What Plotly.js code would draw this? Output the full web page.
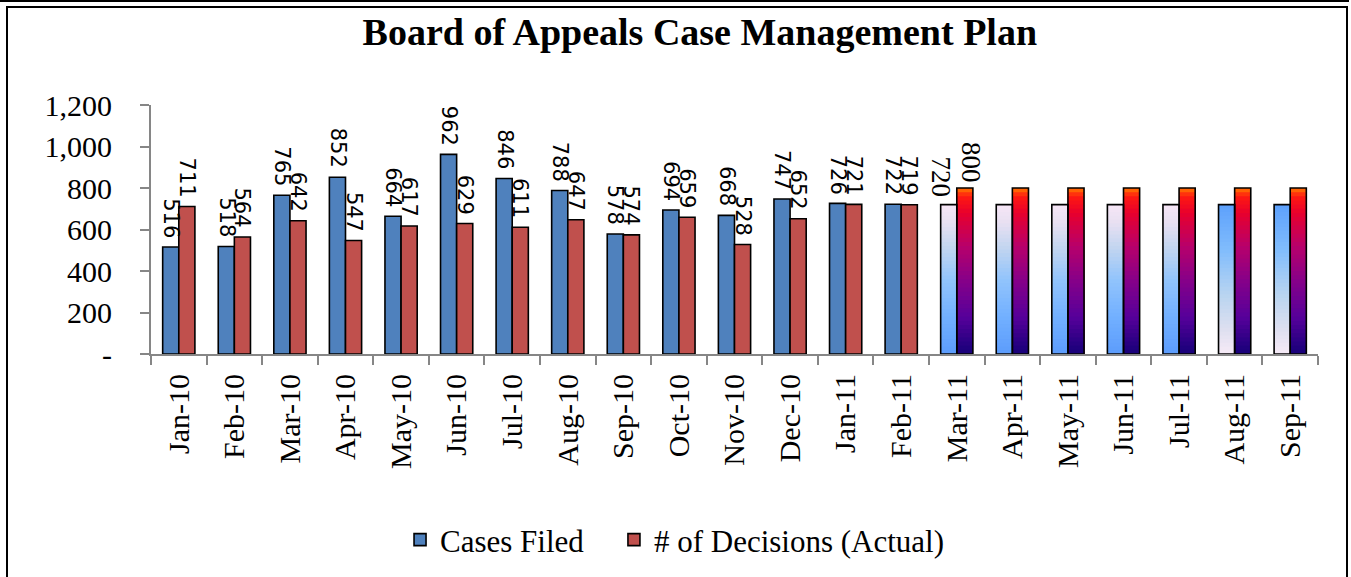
<!DOCTYPE html>
<html>
<head>
<meta charset="utf-8">
<script src="https://cdn.plot.ly/plotly-3.0.1.min.js"></script>
<style>
  html, body { margin: 0; padding: 0; background: #fff; }
  #wrap { position: relative; width: 1351px; height: 577px; overflow: hidden; }
  #chart { position: absolute; left: 0; top: 0; width: 1351px; height: 577px; }
  .topline { position: absolute; left: 0; top: 0; width: 1349px; height: 2px; background: #000; pointer-events: none; }
  .frame { position: absolute; left: 6px; top: 6px; width: 1338px; height: 600px; border: 2px solid #000; border-bottom: none; pointer-events: none; }
</style>
</head>
<body>
<div id="wrap">
  <div id="chart"></div>
  <div class="topline"></div>
  <div class="frame"></div>
</div>
<script>
// ---- data ----
var months = ['Jan-10','Feb-10','Mar-10','Apr-10','May-10','Jun-10','Jul-10','Aug-10','Sep-10','Oct-10','Nov-10','Dec-10','Jan-11','Feb-11',
              'Mar-11','Apr-11','May-11','Jun-11','Jul-11','Aug-11','Sep-11'];
var casesFiledActual = [516,518,765,852,664,962,846,788,578,694,668,747,726,722];
var decisionsActual  = [711,564,642,547,617,629,611,647,574,659,528,652,721,719];
var planMonths       = ['Mar-11','Apr-11','May-11','Jun-11','Jul-11','Aug-11','Sep-11'];
var casesFiledPlan   = [720,720,720,720,720,720,720];
var decisionsPlan    = [800,800,800,800,800,800,800];
var labeledPlanMonth = 'Mar-11';
var yTickVals  = [0,200,400,600,800,1000,1200];
var yTickText  = ['-','200','400','600','800','1,000','1,200'];

// ---- styles ----
var BLUE = '#4f81bd', RED = '#c0504d';
var SERIF = 'Liberation Serif, Times New Roman, serif';
var SANS = 'DejaVu Sans, Verdana, sans-serif';
var BARGAP = 0.42;
var N = 40;

function hex(c){ return [parseInt(c.substr(1,2),16),parseInt(c.substr(3,2),16),parseInt(c.substr(5,2),16)]; }
function interp(stops, t){
  for (var i=0;i<stops.length-1;i++){
    var a=stops[i], b=stops[i+1];
    if (t>=a[0] && t<=b[0]){
      var f=(t-a[0])/(b[0]-a[0]||1), ca=hex(a[1]), cb=hex(b[1]);
      return 'rgb('+Math.round(ca[0]+(cb[0]-ca[0])*f)+','+Math.round(ca[1]+(cb[1]-ca[1])*f)+','+Math.round(ca[2]+(cb[2]-ca[2])*f)+')';
    }
  }
  return stops[stops.length-1][1];
}
var ctx = document.createElement('canvas').getContext('2d');
function textLen(s, size, fam){ ctx.font = size + 'px ' + fam; return ctx.measureText(s).width; }

// gradients, top (0) -> bottom (1)
var filledStopsA = [[0,'#f6e6f6'],[0.12,'#e8e0f2'],[0.3,'#c0d4f0'],[0.5,'#92c4fc'],[0.75,'#72b0ff'],[1,'#5c9cfc']];
var filledStopsB = [[0,'#5ca0fc'],[0.3,'#80bcfc'],[0.6,'#b8d4f0'],[0.85,'#e0e0f0'],[1,'#f6eaf6']];
var decisionStops = [[0,'#ff7a00'],[0.05,'#ff1a10'],[0.15,'#e8002c'],[0.35,'#b8006a'],[0.55,'#880088'],[0.78,'#56009a'],[1,'#160078']];
var filledStyle = ['A','A','A','A','A','B','B'];

var traces = [];
for (var k=0;k<N;k++){
  var t=(k+0.5)/N;
  traces.push({
    type:'bar', x: planMonths, y: casesFiledPlan.map(function(v){return v*(N-k)/N;}),
    offsetgroup:'filed', showlegend:false, hoverinfo:'skip',
    marker:{color: filledStyle.map(function(s){return interp(s==='A'?filledStopsA:filledStopsB,t);}), line:{width:0}}
  });
  traces.push({
    type:'bar', x: planMonths, y: decisionsPlan.map(function(v){return v*(N-k)/N;}),
    offsetgroup:'dec', showlegend:false, hoverinfo:'skip',
    marker:{color: interp(decisionStops,t), line:{width:0}}
  });
}

var filedAll = casesFiledActual.concat(casesFiledPlan);
var decAll = decisionsActual.concat(decisionsPlan);
function fills(col){ return months.map(function(m,i){ return i < casesFiledActual.length ? col : 'rgba(0,0,0,0)'; }); }

traces.push({
  type:'bar', name:'Cases Filed', x: months, y: filedAll, offsetgroup:'filed', hoverinfo:'x+y', legend:'legend',
  marker:{color: fills(BLUE), line:{color:'#000', width:1.6}}
});
traces.push({
  type:'bar', name:'# of Decisions (Actual)', x: months, y: decAll, offsetgroup:'dec', hoverinfo:'x+y', legend:'legend2',
  marker:{color: fills(RED), line:{color:'#000', width:1.6}}
});

// data labels (rotated, reading top-to-bottom), placed through the axis scales
var annotations = [];
var half = (1 - BARGAP) / 4;
months.forEach(function(m, i){
  var isActual = i < casesFiledActual.length;
  if (!isActual && m !== labeledPlanMonth) return;
  var fam = isActual ? SANS : SERIF, size = isActual ? 21 : 27;
  var f = { family: fam, size: size, color:'#000' };
  var s1 = String(filedAll[i]), s2 = String(decAll[i]);
  annotations.push({x: i - half, y: filedAll[i], xref:'x', yref:'y', text: s1, showarrow:false,
    textangle:90, xanchor:'center', yanchor:'middle',
    yshift: textLen(s1, size, fam)/2 + (isActual ? 9 : 7), xshift: isActual ? 0 : -8, font:f, borderpad:0});
  annotations.push({x: i + half, y: decAll[i], xref:'x', yref:'y', text: s2, showarrow:false,
    textangle:90, xanchor:'center', yanchor:'middle',
    yshift: textLen(s2, size, fam)/2 + (isActual ? 9 : 5), xshift: isActual ? 0 : 6, font:f, borderpad:0});
});

var legendFont = {family:SERIF, size:31, color:'#000'};
var layout = {
  width:1351, height:577,
  margin:{l:151, r:33, t:105, b:222, pad:0},
  paper_bgcolor:'#fff', plot_bgcolor:'#fff',
  barmode:'group', bargap:BARGAP, bargroupgap:0,
  title:{text:'<b>Board of Appeals Case Management Plan</b>', font:{family:SERIF, size:38, color:'#000'},
         xref:'container', x:0.518, xanchor:'center', yref:'container', y:0.945, yanchor:'middle'},
  xaxis:{type:'category', categoryorder:'array', categoryarray: months, range:[-0.5, months.length-0.5],
         showline:true, linecolor:'#868686', linewidth:2, ticks:'outside', tickson:'boundaries',
         ticklen:9, tickcolor:'#868686', tickwidth:2, tickangle:-90,
         tickfont:{family:SERIF, size:30, color:'#000'}, ticklabelstandoff:6, showgrid:false, zeroline:false},
  yaxis:{range:[0,1200], tickvals:yTickVals, ticktext:yTickText,
         showline:true, linecolor:'#868686', linewidth:2, ticks:'outside', ticklen:9, tickcolor:'#868686', tickwidth:2,
         tickfont:{family:SERIF, size:30, color:'#000'}, ticklabelstandoff:22, showgrid:false, zeroline:false},
  annotations: annotations,
  showlegend:true,
  legend:{orientation:'h', x:0.2134, xanchor:'left', y:-0.74, yanchor:'middle', font:legendFont, bgcolor:'rgba(0,0,0,0)'},
  legend2:{orientation:'h', x:0.3967, xanchor:'left', y:-0.74, yanchor:'middle', font:legendFont, bgcolor:'rgba(0,0,0,0)'}
};

Plotly.newPlot('chart', traces, layout, {displayModeBar:false, staticPlot:true});
</script>
</body>
</html>
